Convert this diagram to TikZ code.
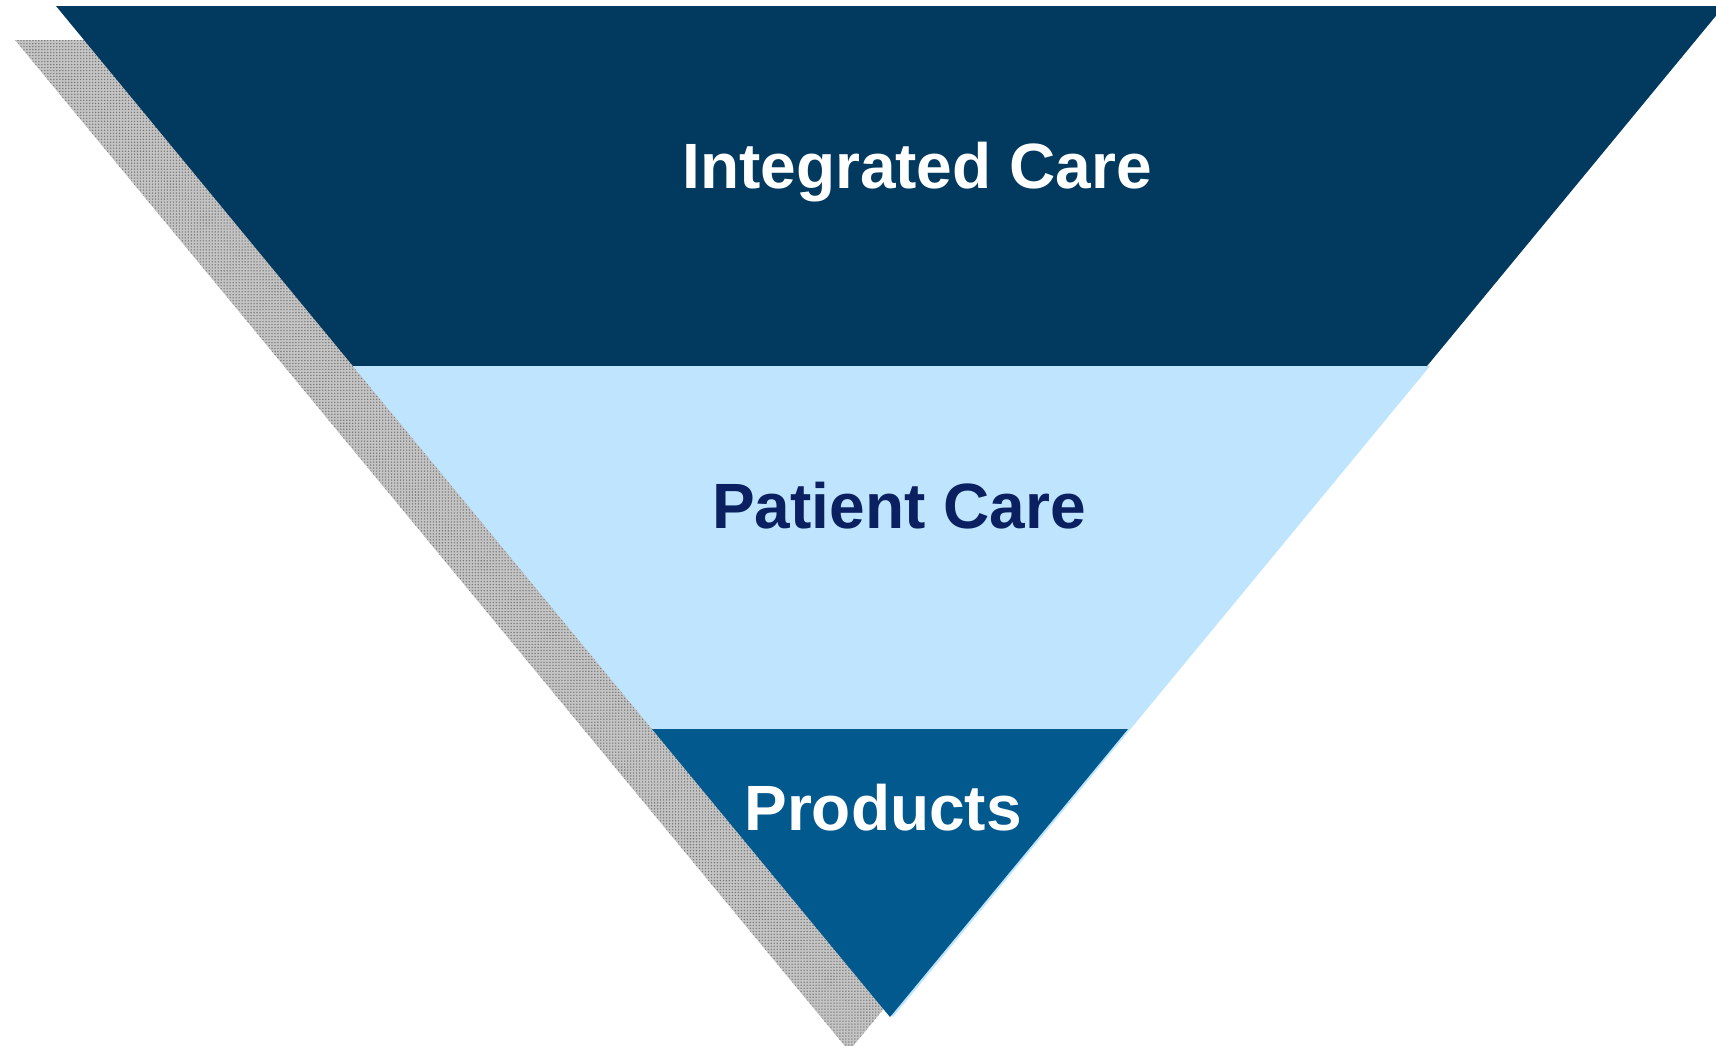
\documentclass[tikz,border=0pt]{standalone}
\usepackage{fontspec}
\setmainfont{Liberation Sans}
\usetikzlibrary{positioning,calc,patterns.meta}

\definecolor{navydark}{RGB}{2,58,95}
\definecolor{bandlight}{RGB}{190,229,253}
\definecolor{bandmid}{RGB}{2,89,142}
\definecolor{textnavy}{RGB}{10,32,96}
\definecolor{shadowgray}{RGB}{196,196,196}
\definecolor{shadowdot}{RGB}{120,120,120}

\tikzset{
  bandtext/.style={anchor=base, font=\fontsize{18.2}{20}\selectfont\bfseries, inner sep=0pt},
  shadowfill/.style={fill=shadowgray, postaction={pattern={Dots[distance=0.85pt, radius=0.22pt]}, pattern color=shadowdot}},
}

\begin{document}
\begin{tikzpicture}[x=0.01cm, y=-0.01cm]
  \useasboundingbox (0,0) rectangle (1716,1045);
  \clip (0,0) rectangle (1716,1045);

  % Corners of the funnel
  \coordinate (tl) at (56,6);
  \coordinate (tr) at (1724,6);
  \coordinate (tip) at (890,1017);
  \coordinate (l1) at (353,366);
  \coordinate (r1) at (1427,366);
  \coordinate (l2) at (652,729);
  \coordinate (r2) at (1128,729);

  % Drop shadow
  \path[shadowfill] ($(tl)+(-41,34)$) -- ($(tr)+(-41,34)$) -- ($(tip)+(-41,34)$) -- cycle;

  % Bands
  \fill[bandlight] (l1) -- ($(r1)+(3,0)$) -- ($(tip)+(3,0)$) -- cycle;
  \fill[navydark] (tl) -- (tr) -- (r1) -- (l1) -- cycle;
  \fill[bandlight] (l1) -- (r1) -- (r2) -- (l2) -- cycle;
  \fill[bandmid] (l2) -- (r2) -- (tip) -- cycle;

  % Labels
  \node[bandtext, text=white] (integrated) at (917,188) {Integrated Care};
  \node[bandtext, text=textnavy] (patient) at (899,528) {Patient Care};
  \node[bandtext, text=white] (products) at (883,830) {Products};
\end{tikzpicture}
\end{document}
